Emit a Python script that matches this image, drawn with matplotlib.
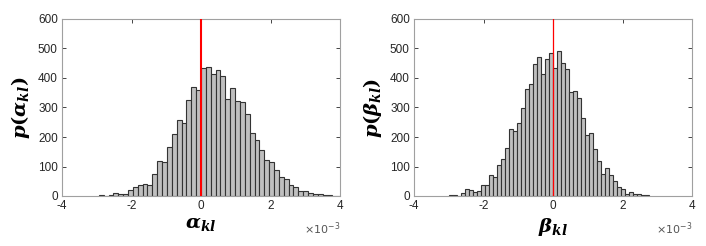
import numpy as np
import matplotlib
matplotlib.use("Agg")
import matplotlib.pyplot as plt

# Left histogram (alpha_kl): bin width and counts, bins start at alpha_start
alpha_width = 0.14e-3
alpha_start = -21 * 0.14e-3
alpha_counts = [3, 1, 3, 10, 7, 7, 20, 31, 37, 42, 36, 75, 119, 115, 167, 210, 256, 249, 325, 368, 359,
                433, 436, 415, 426, 406, 329, 366, 322, 318, 277, 212, 189, 156, 121, 115, 89, 64, 58,
                36, 29, 17, 16, 9, 8, 6, 3, 2, 1, 1]

# Right histogram (beta_kl)
beta_width = 0.115e-3
beta_start = -26 * 0.115e-3
beta_counts = [2, 2, 1, 9, 23, 19, 14, 17, 36, 36, 72, 66, 104, 124, 163, 226, 222, 249, 297, 363, 379,
               446, 472, 412, 466, 484,
               435, 493, 450, 429, 354, 357, 331, 263, 207, 212, 159, 119, 76, 94, 70, 50, 31, 23, 8, 12,
               6, 6, 3, 2]

xticks = [-4e-3, -2e-3, 0, 2e-3, 4e-3]
xticklabels = ["-4", "-2", "0", "2", "4"]
yticks = [0, 100, 200, 300, 400, 500, 600]

plt.rcParams['font.family'] = ['Liberation Sans', 'DejaVu Sans']
plt.rcParams['mathtext.fontset'] = 'custom'
plt.rcParams['mathtext.it'] = 'DejaVu Serif:italic:bold'
plt.rcParams['mathtext.rm'] = 'DejaVu Serif:bold'
plt.rcParams['mathtext.bf'] = 'DejaVu Serif:italic:bold'

fig = plt.figure(figsize=(7.06, 2.46), dpi=100)
axL = fig.add_axes([62/706, 50/246, 278/706, 177/246])
axR = fig.add_axes([414/706, 50/246, 278/706, 177/246])

def draw(ax, start, width, counts, xlabel, ylabel, red_lw):
    edges = start + width * np.arange(len(counts))
    ax.bar(edges, counts, width=width, align='edge', color='#bfbfbf',
           edgecolor='#333333', linewidth=0.8, zorder=2)
    ax.axvline(0, color='red', lw=red_lw, zorder=3)
    ax.set_xlim(-4e-3, 4e-3)
    ax.set_ylim(0, 600)
    ax.set_xticks(xticks)
    ax.set_xticklabels(xticklabels)
    ax.set_yticks(yticks)
    ax.tick_params(direction='in', top=True, right=True, length=3, width=0.6,
                   labelsize=8.5, colors='#262626', pad=3)
    for s in ax.spines.values():
        s.set_color('#a0a0a0')
        s.set_linewidth(0.8)
    ax.set_xlabel(xlabel, fontsize=14, labelpad=3)
    ax.set_ylabel(ylabel, fontsize=14, labelpad=4)
    ax.text(1.0, -0.14, r'$\times10^{-3}$', transform=ax.transAxes,
            ha='right', va='top', fontsize=8, color='#555555',
            math_fontfamily='dejavusans')

draw(axL, alpha_start, alpha_width, alpha_counts,
     r'$\alpha_{kl}$', r'$p(\alpha_{kl})$', 1.5)
draw(axR, beta_start, beta_width, beta_counts,
     r'$\beta_{kl}$', r'$p(\beta_{kl})$', 0.9)

fig.savefig('out.png', dpi=100)
